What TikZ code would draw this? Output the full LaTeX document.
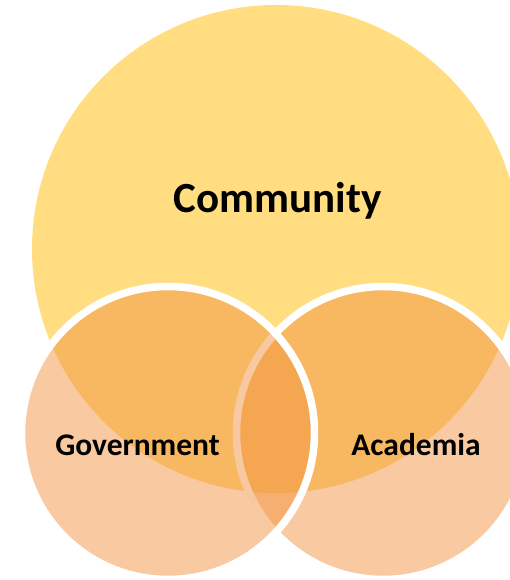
\documentclass[tikz,border=0pt]{standalone}
\usepackage{fontspec}
\setmainfont{Carlito}
\definecolor{commyellow}{RGB}{255,221,128}
\definecolor{setorange}{RGB}{243,149,67}

\begin{document}
\begin{tikzpicture}[x=1pt,y=-1pt,
    bigset/.style={circle,inner sep=0pt,fill=commyellow,minimum size=488pt},
    subset/.style={circle,inner sep=0pt,fill=setorange,fill opacity=0.5,draw=white,draw opacity=1,line width=7.5pt,minimum size=293pt},
    setlabel/.style={anchor=base,text=black,font=\bfseries\fontsize{31.5}{36}\selectfont}]
    \useasboundingbox (0,0) rectangle (510,580);
    \clip (0,0) rectangle (510,580);
    % circles
    \node[bigset] (community) at (276,249) {};
    \node[subset] (academia) at (383,433) {};
    \node[subset] (government) at (168,433) {};
    % labels
    \node[setlabel,font=\bfseries\fontsize{43}{50}\selectfont] (communitytext) at (277.5,212) {Community};
    \node[setlabel] (governmenttext) at (137.5,455) {Government};
    \node[setlabel] (academiatext) at (416,455) {Academia};
\end{tikzpicture}
\end{document}
